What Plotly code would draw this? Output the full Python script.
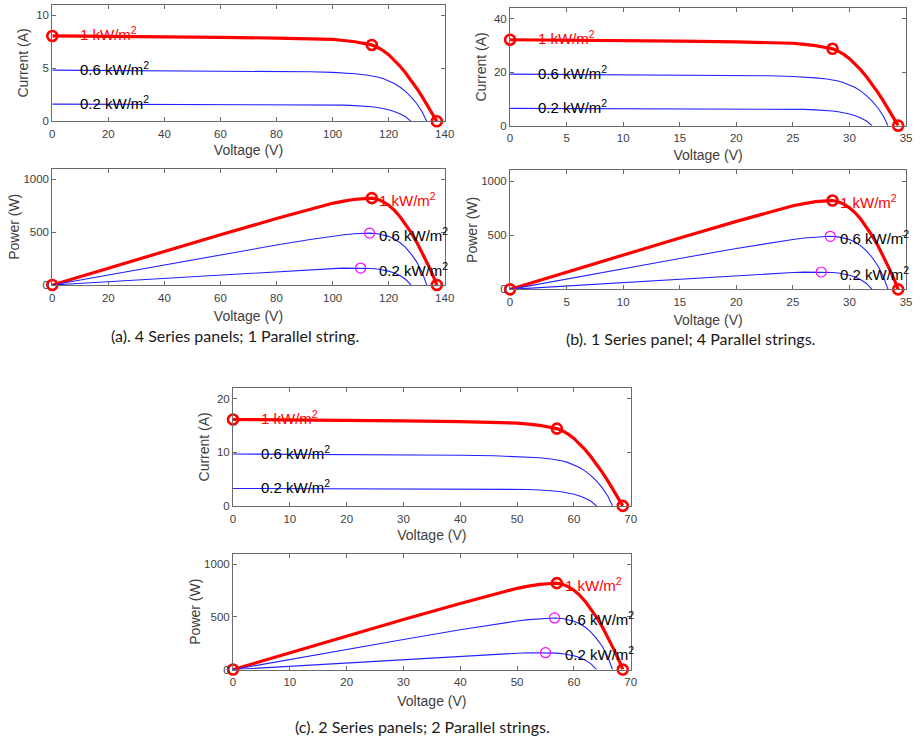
import plotly.graph_objects as go

# ---------------- data (single-panel level) ----------------
irr_labels = ["1 kW/m<sup>2</sup>", "0.6 kW/m<sup>2</sup>", "0.2 kW/m<sup>2</sup>"]

v_1kw = [0, 2, 5, 10, 15, 20, 23, 25, 26, 27, 28, 28.5, 29, 29.5, 30, 30.5, 31, 31.5, 32, 32.5, 33, 33.5, 34, 34.3]
i_1kw = [8.05, 8.04, 8.02, 7.97, 7.92, 7.85, 7.79, 7.72, 7.62, 7.50, 7.30, 7.20, 6.98, 6.68, 6.28, 5.80, 5.22, 4.58, 3.88, 3.12, 2.30, 1.45, 0.58, 0.0]

v_06 = [0, 5, 10, 15, 20, 23, 25, 26, 27, 28, 28.3, 29, 29.5, 30, 30.5, 31, 31.5, 32, 32.5, 33, 33.4]
i_06 = [4.83, 4.81, 4.79, 4.76, 4.72, 4.67, 4.61, 4.56, 4.48, 4.37, 4.33, 4.18, 4.03, 3.83, 3.57, 3.24, 2.82, 2.30, 1.68, 0.88, 0.0]

v_02 = [0, 5, 10, 15, 20, 23, 25, 26, 27, 27.5, 28, 28.5, 29, 29.5, 30, 30.5, 31, 31.5, 32]
i_02 = [1.62, 1.615, 1.61, 1.60, 1.585, 1.57, 1.55, 1.53, 1.48, 1.455, 1.42, 1.37, 1.30, 1.21, 1.09, 0.93, 0.72, 0.43, 0.0]

mpp_v = [28.5, 28.3, 27.5]
mpp_i = [7.20, 4.33, 1.455]

# array configurations
series_panels = [4, 1, 2]
parallel_strings = [1, 4, 2]
captions = ["(a). 4 Series panels; 1 Parallel string.",
            "(b). 1 Series panel; 4 Parallel strings.",
            "(c). 2 Series panels; 2 Parallel strings."]

x_ticks = [[0, 20, 40, 60, 80, 100, 120, 140],
           [0, 5, 10, 15, 20, 25, 30, 35],
           [0, 10, 20, 30, 40, 50, 60, 70]]
i_ticks = [[0, 5, 10], [0, 20, 40], [0, 10, 20]]
p_ticks = [0, 500, 1000]

# ---------------- layout geometry ----------------
W, H = 922, 742
RED = "#ff0000"
BLUE = "rgb(35,35,255)"
MAG = "#ff00ff"
AXC = "#6a6a6a"
TXC = "#404040"
FONT = "Liberation Sans, Arial, sans-serif"

xdom_px = [(50, 448), (514.3, 916), (233.3, 636.7)]
ydom_px = [((4.7, 122.3), (170, 287.3)),
           ((8.3, 126.7), (171.7, 291.7)),
           ((391, 510), (558.3, 675))]
x_max = [140, 35, 70]
i_max = [11, 44, 22]
p_max = 1100
text_v_iv = 2.3     # panel voltage where the I-V labels start
text_v_p = 29.0     # panel voltage where the P-V labels start

curves = [(v_1kw, i_1kw), (v_06, i_06), (v_02, i_02)]

fig = go.Figure()
layout = dict(width=W, height=H, margin=dict(l=0, r=0, t=0, b=0),
              paper_bgcolor="white", plot_bgcolor="white", showlegend=False,
              font=dict(family=FONT, color=TXC))
annotations = []


def axis_common(ticks, rng, title, standoff, anchor, dom, lab_standoff):
    return dict(domain=dom, anchor=anchor, range=rng, tickvals=ticks,
                showline=True, mirror="ticks", ticks="inside", ticklen=4,
                linecolor=AXC, tickcolor=AXC, linewidth=1,
                showgrid=False, zeroline=False, ticklabelstandoff=lab_standoff,
                tickfont=dict(size=11.5, color=TXC, family=FONT),
                title=dict(text=title, font=dict(size=14, color=TXC, family=FONT),
                           standoff=standoff))


for k in range(3):
    ns, npar = series_panels[k], parallel_strings[k]
    ax_iv = 2 * k + 1
    ax_p = 2 * k + 2
    xs = {ax_iv: "x" if ax_iv == 1 else f"x{ax_iv}", ax_p: f"x{ax_p}"}
    ys = {ax_iv: "y" if ax_iv == 1 else f"y{ax_iv}", ax_p: f"y{ax_p}"}

    xd = [xdom_px[k][0] / W, xdom_px[k][1] / W]
    (t1, b1), (t2, b2) = ydom_px[k]
    yd_iv = [1 - b1 / H, 1 - t1 / H]
    yd_p = [1 - b2 / H, 1 - t2 / H]

    kx_iv = "xaxis" if ax_iv == 1 else f"xaxis{ax_iv}"
    ky_iv = "yaxis" if ax_iv == 1 else f"yaxis{ax_iv}"
    layout[kx_iv] = axis_common(x_ticks[k], [0, x_max[k]], "Voltage (V)", 6, ys[ax_iv], xd, 2)
    layout[ky_iv] = axis_common(i_ticks[k], [0, i_max[k]], "Current (A)", 4, xs[ax_iv], yd_iv, 0)
    layout[f"xaxis{ax_p}"] = axis_common(x_ticks[k], [0, x_max[k]], "Voltage (V)", 8, ys[ax_p], xd, 2)
    layout[f"yaxis{ax_p}"] = axis_common(p_ticks, [0, p_max], "Power (W)", 0, xs[ax_p], yd_p, 0)

    # lines (1 kW first, thick red; others thin blue)
    for j, (vv, ii) in enumerate(curves):
        V = [v * ns for v in vv]
        I = [c * npar for c in ii]
        P = [a * b for a, b in zip(V, I)]
        style = dict(color=RED, width=3.2) if j == 0 else dict(color=BLUE, width=1.1)
        fig.add_trace(go.Scatter(x=V, y=I, mode="lines", line=style,
                                 xaxis=xs[ax_iv], yaxis=ys[ax_iv], hoverinfo="skip"))
        fig.add_trace(go.Scatter(x=V, y=P, mode="lines", line=style,
                                 xaxis=xs[ax_p], yaxis=ys[ax_p], hoverinfo="skip"))

    # markers for 1 kW: short-circuit, MPP, open-circuit
    v1 = [v_1kw[0] * ns, mpp_v[0] * ns, v_1kw[-1] * ns]
    i1 = [i_1kw[0] * npar, mpp_i[0] * npar, i_1kw[-1] * npar]
    p1 = [a * b for a, b in zip(v1, i1)]
    mk = dict(symbol="circle-open", size=10, color=RED, line=dict(color=RED, width=2.6))
    fig.add_trace(go.Scatter(x=v1, y=i1, mode="markers", marker=mk, cliponaxis=False,
                             xaxis=xs[ax_iv], yaxis=ys[ax_iv]))
    fig.add_trace(go.Scatter(x=v1, y=p1, mode="markers", marker=mk, cliponaxis=False,
                             xaxis=xs[ax_p], yaxis=ys[ax_p]))
    # magenta MPP markers for 0.6 and 0.2 kW/m2
    vm = [mpp_v[j] * ns for j in (1, 2)]
    pm = [mpp_v[j] * ns * mpp_i[j] * npar for j in (1, 2)]
    fig.add_trace(go.Scatter(x=vm, y=pm, mode="markers", cliponaxis=False,
                             marker=dict(symbol="circle-open", size=10, color=MAG,
                                         line=dict(color=MAG, width=1.2)),
                             xaxis=xs[ax_p], yaxis=ys[ax_p]))

    # labels
    for j in range(3):
        col = RED if j == 0 else "black"
        annotations.append(dict(text=irr_labels[j], x=text_v_iv * ns, y=curves[j][1][0] * npar,
                                xref=xs[ax_iv], yref=ys[ax_iv], xanchor="left", yanchor="middle",
                                showarrow=False, yshift=2,
                                font=dict(size=15, color=col, family=FONT)))
        annotations.append(dict(text=irr_labels[j], x=text_v_p * ns,
                                y=mpp_v[j] * ns * mpp_i[j] * npar,
                                xref=xs[ax_p], yref=ys[ax_p], xanchor="left", yanchor="middle",
                                showarrow=False, yshift=-1,
                                font=dict(size=15, color=col, family=FONT)))

# captions
cap_pos = [(235, 338), (697, 341), (425, 732)]
for k in range(3):
    annotations.append(dict(text=captions[k], x=cap_pos[k][0] / W,
                            y=1 - cap_pos[k][1] / H,
                            xref="paper", yref="paper", xanchor="center", yanchor="middle",
                            showarrow=False,
                            font=dict(size=16, color="#1a1a1a", family="Lato, Open Sans, sans-serif")))

layout["annotations"] = annotations
fig.update_layout(**layout)
fig.write_html("out.html", config={"displayModeBar": False},
               post_script="document.body.style.margin='0';document.body.style.overflow='hidden';")
